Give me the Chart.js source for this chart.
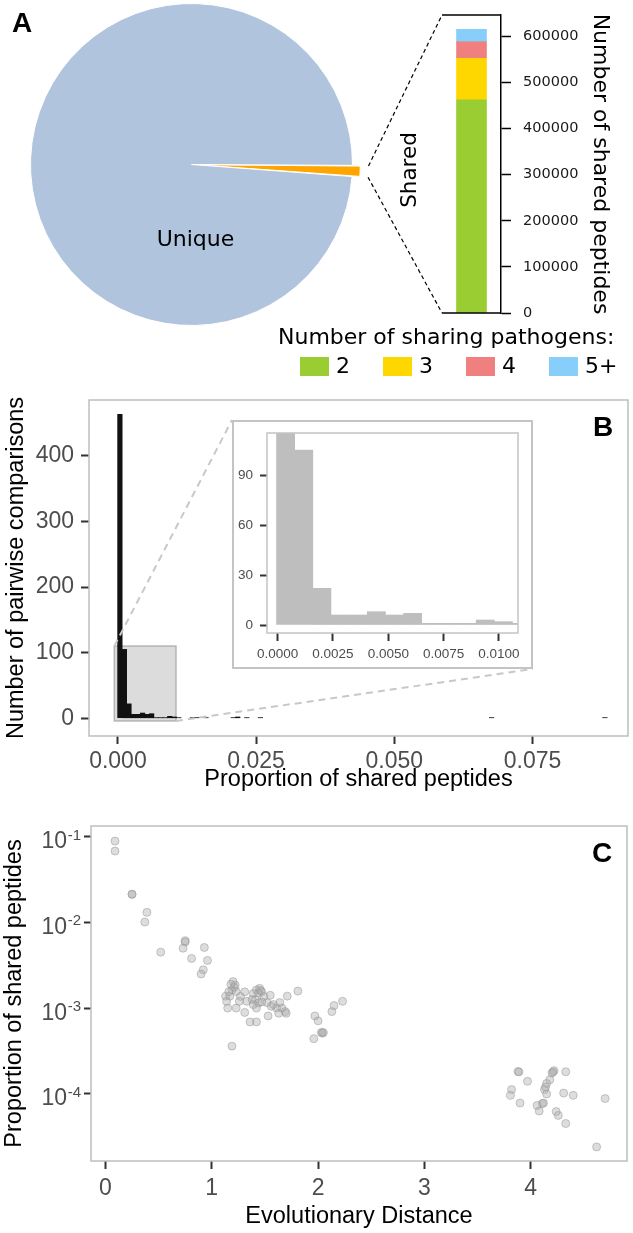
<!DOCTYPE html>
<html>
<head>
<meta charset="utf-8">
<title>Shared peptides</title>
<script src="https://cdn.jsdelivr.net/npm/chart.js@4.4.1/dist/chart.umd.min.js"></script>
<style>
  html, body { margin: 0; padding: 0; background: #fff; }
  body { position: relative; width: 633px; height: 1233px; overflow: hidden; font-family: 'DejaVu Sans', sans-serif; color: #000; }
  canvas { position: absolute; }
  .tag { position: absolute; font-family: 'Liberation Sans', Arial, sans-serif; font-weight: bold; font-size: 28px; line-height: 28px; }
  #legendTitle { position: absolute; left: 278px; top: 324px; font-size: 22px; line-height: 26px; white-space: nowrap; }
  #legendRow { position: absolute; left: 300px; top: 356px; display: flex; align-items: center; font-size: 22px; line-height: 20px; }
  #legendRow .item { display: flex; align-items: center; margin-right: 33px; }
  #legendRow .key { display: inline-block; width: 29px; height: 19px; margin-right: 7px; }
  #insetBox { position: absolute; box-sizing: border-box; border: 2px solid #c4c4c4; background: #fff; }
  #insetBox canvas { position: static; display: block; }
</style>
</head>
<body>
<canvas id="pieChart" width="339" height="339" style="left:22px;top:-5px"></canvas>
<canvas id="stackChart" width="363" height="320" style="left:270px;top:0"></canvas>
<canvas id="overlay" width="633" height="395" style="left:0;top:0"></canvas>
<div class="tag" style="left:12px;top:9px">A</div>
<div id="legendTitle">Number of sharing pathogens:</div>
<div id="legendRow"></div>

<canvas id="histChart" width="633" height="410" style="left:0;top:390px"></canvas>
<div id="insetBox"><canvas id="insetChart" width="297" height="245"></canvas></div>
<div class="tag" style="left:593px;top:413px">B</div>

<canvas id="scatterChart" width="633" height="418" style="left:0;top:815px"></canvas>
<div class="tag" style="left:592px;top:839px">C</div>

<script>
// === DATA ===
const pieLabels = ['Shared', 'Unique'];
const pieValues = [615000, 54800000];
const pieColors = ['#FFA500', '#B0C4DE'];

const sharingLabels = ['2', '3', '4', '5+'];
const sharedPeptides = [462000, 90000, 36000, 27000];
const sharingColors = ['#9ACD32', '#FFD700', '#F08080', '#87CEFA'];
const peptideTicks = [0, 100000, 200000, 300000, 400000, 500000, 600000];

// histogram bins (width ~0.00082), centres and counts
const binCenters = [0.00036, 0.00118, 0.00200, 0.00282, 0.00364, 0.00446, 0.00528, 0.00610,
  0.00692, 0.00774, 0.00856, 0.00938, 0.01020, 0.01102, 0.01348, 0.01430, 0.01594,
  0.02086, 0.02168, 0.02332, 0.02578, 0.06760, 0.08810];
const binCounts = [463, 105, 22, 6, 6, 8, 6, 7, 1, 1, 1, 3, 2, 1, 1, 1, 1, 1, 2, 1, 1, 1, 1];
const propTicks = [0, 0.025, 0.05, 0.075];
const countTicks = [0, 100, 200, 300, 400];
const zoomPropTicks = [0, 0.0025, 0.005, 0.0075, 0.01];
const zoomCountTicks = [0, 30, 60, 90];
const zoomXRange = [-0.00048, 0.01086];
const zoomYRange = [-4.8, 115.2];
const zoomRectX = [-0.00065, 0.0105];
const zoomRectY = [-4, 110];

const distances = [0.09, 0.09, 0.25, 0.25, 0.39, 0.37, 0.52, 0.75, 0.75, 0.73, 0.93, 0.81, 0.96, 0.92, 0.90,
  1.13, 1.20, 1.22, 1.19, 1.23, 1.17, 1.27, 1.15, 1.23, 1.31, 1.33, 1.31, 1.36, 1.42, 1.19, 1.39, 1.42, 1.45,
  1.47, 1.41, 1.44, 1.42, 1.39, 1.55, 1.52, 1.53, 1.58, 1.61, 1.64, 1.66, 1.63, 1.69, 1.70, 1.71, 1.81, 1.97,
  2.00, 1.96, 2.03, 2.04, 2.05, 2.13, 2.15, 2.23, 1.16, 1.26, 1.14, 1.49, 1.38, 1.21, 1.44, 1.46, 1.56, 1.47, 1.18,
  3.88, 3.89, 3.97, 3.82, 3.81, 3.90, 4.22, 4.20, 4.18, 4.15, 4.13, 4.15, 4.33, 4.31, 4.40, 4.11, 4.12, 4.06,
  4.08, 4.24, 4.26, 4.33, 4.70, 4.62, 4.14, 4.21];
const proportions = [0.089, 0.068, 0.0214, 0.0212, 0.0131, 0.0101, 0.0045, 0.0061, 0.0059, 0.0050, 0.0051, 0.0038, 0.0036, 0.0028, 0.0025,
  0.00138, 0.00204, 0.00186, 0.00163, 0.00156, 0.00138, 0.00137, 0.00100, 0.00100, 0.00155, 0.00120, 0.00089, 0.00069, 0.00069, 0.00036, 0.00148, 0.00163, 0.00170,
  0.00155, 0.00126, 0.00115, 0.00100, 0.00110, 0.00141, 0.00116, 0.00081, 0.00110, 0.00100, 0.00116, 0.00100, 0.00087, 0.00091, 0.00087, 0.00138, 0.00158, 0.00081,
  0.00071, 0.00044, 0.00052, 0.00051, 0.00052, 0.00091, 0.00107, 0.00120, 0.00155, 0.00120, 0.00120, 0.00137, 0.00126, 0.00175, 0.00150, 0.00160, 0.00105, 0.00118, 0.00190,
  1.82e-4, 1.80e-4, 1.40e-4, 1.12e-4, 9.6e-5, 7.8e-5, 1.86e-4, 1.75e-4, 1.46e-4, 1.32e-4, 1.12e-4, 9.95e-5, 1.81e-4, 1.02e-4, 9.6e-5, 7.7e-5, 7.8e-5, 7.3e-5,
  6.3e-5, 6.2e-5, 5.6e-5, 4.5e-5, 8.8e-5, 2.4e-5, 1.2e-4, 1.80e-4];
const distanceTicks = [0, 1, 2, 3, 4];
const logTicks = [1e-4, 1e-3, 1e-2, 1e-1];

// === LAYOUT ===
const stackPos = {left: 270, top: 0};
const piePos = {left: 22, top: -5};
const histPos = {left: 0, top: 390};
const insetBox = {left: 232, top: 420, width: 301, height: 249};
const gg = "'Liberation Sans', Arial, sans-serif";

// === DEFAULTS ===
Chart.defaults.font.family = "'DejaVu Sans', sans-serif";
Chart.defaults.animation = false;
Chart.defaults.events = [];
Chart.defaults.plugins.legend.display = false;
Chart.defaults.plugins.tooltip.enabled = false;

function fixedSize(w, h) {
  return (axis) => {
    if (w != null) axis.width = w;
    if (h != null) axis.height = h;
    axis.paddingTop = axis.paddingBottom = axis.paddingLeft = axis.paddingRight = 0;
  };
}
function useTicks(values) {
  return (axis) => { axis.ticks = values.map(value => ({value})); };
}
function ggGrid(len) {
  return {display: true, drawOnChartArea: false, drawTicks: true, tickLength: len,
          tickWidth: 2, tickColor: '#333', offset: false};
}
function ggTicks(size, padding, extra) {
  return Object.assign({color: '#4d4d4d', font: {family: gg, size}, padding, maxRotation: 0}, extra || {});
}
function ggTitle(text, padding) {
  return {display: true, text, color: '#000', font: {family: gg, size: 23.5}, padding};
}

const panelBorder = {
  id: 'panelBorder',
  afterDraw(chart, args, opts) {
    const {ctx, chartArea: a} = chart;
    ctx.save();
    ctx.strokeStyle = opts.color || '#bebebe';
    ctx.lineWidth = opts.width || 1.5;
    ctx.strokeRect(a.left, a.top, a.right - a.left, a.bottom - a.top);
    ctx.restore();
  }
};

// === A: PIE ===
const sliceLabel = {
  id: 'sliceLabel',
  afterDatasetsDraw(chart) {
    const arc = chart.getDatasetMeta(0).data[1];
    const {ctx} = chart;
    ctx.save();
    ctx.font = "22px 'DejaVu Sans'";
    ctx.fillStyle = '#000';
    ctx.textAlign = 'center';
    ctx.textBaseline = 'middle';
    ctx.fillText(pieLabels[1], arc.x + 4, arc.y + arc.outerRadius * 0.47);
    ctx.restore();
  }
};

const pieChart = new Chart(document.getElementById('pieChart'), {
  type: 'pie',
  data: {
    labels: pieLabels,
    datasets: [{
      data: pieValues,
      backgroundColor: pieColors,
      borderColor: '#fff',
      borderWidth: 1,
      offset: [16, 0]
    }]
  },
  options: {responsive: false, rotation: 90.3},
  plugins: [sliceLabel]
});

// === A: STACKED BAR ===
const boxLines = {
  id: 'boxLines',
  afterDraw(chart) {
    const {ctx, chartArea: a} = chart;
    ctx.save();
    ctx.strokeStyle = '#000';
    ctx.lineWidth = 1.5;
    ctx.beginPath();
    ctx.moveTo(a.left, a.top); ctx.lineTo(a.right, a.top);
    ctx.moveTo(a.left, a.bottom); ctx.lineTo(a.right, a.bottom);
    ctx.stroke();
    ctx.restore();
  }
};

const stackChart = new Chart(document.getElementById('stackChart'), {
  type: 'bar',
  data: {
    labels: [pieLabels[0]],
    datasets: sharingLabels.map((label, i) => ({
      label,
      data: [sharedPeptides[i]],
      backgroundColor: sharingColors[i],
      barThickness: 30
    }))
  },
  options: {
    responsive: false,
    layout: {padding: {left: 172, top: 15, right: 19, bottom: 7}},
    scales: {
      x: {stacked: true, display: false},
      y: {
        stacked: true,
        position: 'right',
        min: 0,
        max: 646000,
        afterBuildTicks: useTicks(peptideTicks),
        afterFit: fixedSize(113, null),
        ticks: {callback: v => String(v), color: '#1a1a1a', font: {size: 14.5}, padding: 12},
        grid: {display: true, drawOnChartArea: false, drawTicks: true, tickLength: 10, tickWidth: 1.5, tickColor: '#000'},
        border: {display: true, color: '#000', width: 1.5},
        title: {display: true, text: 'Number of shared peptides', color: '#000', font: {size: 22}, padding: {top: 1, bottom: 0}}
      }
    }
  },
  plugins: [boxLines]
});

// legend for the stacked bar
const legendRow = document.getElementById('legendRow');
sharingLabels.forEach((label, i) => {
  const item = document.createElement('span');
  item.className = 'item';
  const key = document.createElement('span');
  key.className = 'key';
  key.style.background = sharingColors[i];
  item.appendChild(key);
  item.appendChild(document.createTextNode(label));
  legendRow.appendChild(item);
});

// dashed links from the shared slice to the bar, plus slice name
(function drawOverlay() {
  const ctx = document.getElementById('overlay').getContext('2d');
  const arc = pieChart.getDatasetMeta(0).data[0];
  const off = arc.options.offset;
  const mid = (arc.startAngle + arc.endAngle) / 2;
  const cx = piePos.left + arc.x + Math.cos(mid) * off;
  const cy = piePos.top + arc.y + Math.sin(mid) * off;
  const r = arc.outerRadius;
  const a = stackChart.chartArea;
  ctx.save();
  ctx.strokeStyle = '#000';
  ctx.lineWidth = 1.2;
  ctx.setLineDash([4, 3]);
  ctx.beginPath();
  ctx.moveTo(cx + Math.cos(arc.startAngle) * r, cy + Math.sin(arc.startAngle) * r);
  ctx.lineTo(stackPos.left + a.left, stackPos.top + a.top);
  ctx.moveTo(cx + Math.cos(arc.endAngle) * r, cy + Math.sin(arc.endAngle) * r);
  ctx.lineTo(stackPos.left + a.left, stackPos.top + a.bottom);
  ctx.stroke();
  ctx.restore();

  ctx.save();
  ctx.translate(stackPos.left + a.left - 32, stackPos.top + (a.top + a.bottom) / 2 + 6);
  ctx.rotate(-Math.PI / 2);
  ctx.font = "21.5px 'DejaVu Sans'";
  ctx.fillStyle = '#000';
  ctx.textAlign = 'center';
  ctx.textBaseline = 'middle';
  ctx.fillText(pieLabels[0], 0, 0);
  ctx.restore();
})();

// === B: HISTOGRAM ===
const histData = binCenters.map((x, i) => ({x, y: binCounts[i]}));

const zoomRegion = {
  id: 'zoomRegion',
  beforeDatasetsDraw(chart) {
    const {ctx, scales: {x, y}} = chart;
    const l = x.getPixelForValue(zoomRectX[0]), r = x.getPixelForValue(zoomRectX[1]);
    const t = y.getPixelForValue(zoomRectY[1]), b = y.getPixelForValue(zoomRectY[0]);
    ctx.save();
    ctx.fillStyle = '#dcdcdc';
    ctx.fillRect(l, t, r - l, b - t);
    ctx.strokeStyle = '#b4b4b4';
    ctx.lineWidth = 1.5;
    ctx.strokeRect(l, t, r - l, b - t);
    ctx.restore();
  },
  afterDatasetsDraw(chart) {
    const {ctx, scales: {x, y}} = chart;
    const l = x.getPixelForValue(zoomRectX[0]), r = x.getPixelForValue(zoomRectX[1]);
    const t = y.getPixelForValue(zoomRectY[1]), b = y.getPixelForValue(zoomRectY[0]);
    ctx.save();
    ctx.strokeStyle = '#c8c8c8';
    ctx.lineWidth = 2;
    ctx.setLineDash([7, 5]);
    ctx.beginPath();
    ctx.moveTo(l, t);
    ctx.lineTo(insetBox.left - histPos.left, insetBox.top - histPos.top);
    ctx.moveTo(r, b);
    ctx.lineTo(insetBox.left + insetBox.width - histPos.left, insetBox.top + insetBox.height - histPos.top);
    ctx.stroke();
    ctx.restore();
  }
};

new Chart(document.getElementById('histChart'), {
  type: 'bar',
  data: {
    datasets: [{data: histData, backgroundColor: '#111', barPercentage: 1, categoryPercentage: 1, clip: 0}]
  },
  options: {
    responsive: false,
    layout: {padding: {left: 0, top: 10, right: 5, bottom: 0}},
    scales: {
      x: {
        type: 'linear', min: -0.00523, max: 0.09228, offset: false,
        afterBuildTicks: useTicks(propTicks),
        afterFit: fixedSize(null, 64),
        ticks: ggTicks(23, 3.5, {callback: v => v.toFixed(3)}),
        grid: ggGrid(8),
        border: {display: false},
        title: ggTitle('Proportion of shared peptides', {top: 0, bottom: 6})
      },
      y: {
        min: -27, max: 485,
        afterBuildTicks: useTicks(countTicks),
        afterFit: fixedSize(89, null),
        ticks: ggTicks(23, 7),
        grid: ggGrid(8),
        border: {display: false},
        title: ggTitle('Number of pairwise comparisons', {top: 2, bottom: 0})
      }
    },
    plugins: {panelBorder: {color: '#bebebe', width: 1.5}}
  },
  plugins: [zoomRegion, panelBorder]
});

// inset: zoom on the first bins
const box = document.getElementById('insetBox');
box.style.left = insetBox.left + 'px';
box.style.top = insetBox.top + 'px';
box.style.width = insetBox.width + 'px';
box.style.height = insetBox.height + 'px';

new Chart(document.getElementById('insetChart'), {
  type: 'bar',
  data: {
    datasets: [{data: histData, backgroundColor: '#bebebe', barPercentage: 1, categoryPercentage: 1, clip: 0}]
  },
  options: {
    responsive: false,
    layout: {padding: {left: 0, top: 11, right: 13, bottom: 0}},
    scales: {
      x: {
        type: 'linear', min: zoomXRange[0], max: zoomXRange[1], offset: false,
        afterBuildTicks: useTicks(zoomPropTicks),
        afterFit: fixedSize(null, 34),
        ticks: ggTicks(13.5, 5, {callback: v => v.toFixed(4)}),
        grid: ggGrid(8),
        border: {display: false}
      },
      y: {
        min: zoomYRange[0], max: zoomYRange[1],
        afterBuildTicks: useTicks(zoomCountTicks),
        afterFit: fixedSize(33, null),
        ticks: ggTicks(13.5, 7),
        grid: ggGrid(7),
        border: {display: false}
      }
    },
    plugins: {panelBorder: {color: '#c4c4c4', width: 1.5}}
  },
  plugins: [panelBorder]
});

// === C: SCATTER ===
const powerLabels = {
  id: 'powerLabels',
  afterDraw(chart) {
    const {ctx, scales: {y}} = chart;
    const right = y.right - 7 - 3;
    ctx.save();
    ctx.fillStyle = '#4d4d4d';
    ctx.textAlign = 'right';
    ctx.textBaseline = 'alphabetic';
    y.ticks.forEach(t => {
      const py = y.getPixelForValue(t.value);
      const exp = String(Math.round(Math.log10(t.value)));
      ctx.font = '15px ' + gg;
      const ew = ctx.measureText(exp).width;
      ctx.fillText(exp, right, py + 3);
      ctx.font = '23px ' + gg;
      ctx.fillText('10', right - ew - 0.5, py + 11.5);
    });
    ctx.restore();
  }
};

new Chart(document.getElementById('scatterChart'), {
  type: 'scatter',
  data: {
    datasets: [{
      data: distances.map((x, i) => ({x, y: proportions[i]})),
      backgroundColor: 'rgba(170,170,170,0.4)',
      borderColor: 'rgba(150,150,150,0.5)',
      borderWidth: 1,
      pointRadius: 4
    }]
  },
  options: {
    responsive: false,
    layout: {padding: {left: 0, top: 11, right: 6, bottom: 0}},
    scales: {
      x: {
        type: 'linear', min: -0.136, max: 4.906,
        afterBuildTicks: useTicks(distanceTicks),
        afterFit: fixedSize(null, 72),
        ticks: ggTicks(23, 6),
        grid: ggGrid(8),
        border: {display: false},
        title: ggTitle('Evolutionary Distance', {top: 0, bottom: 2})
      },
      y: {
        type: 'logarithmic', min: 1.644e-5, max: 0.1334,
        afterBuildTicks: useTicks(logTicks),
        afterFit: fixedSize(91, null),
        ticks: {display: false},
        grid: ggGrid(7),
        border: {display: false},
        title: ggTitle('Proportion of shared peptides', {top: 0, bottom: 0})
      }
    },
    plugins: {panelBorder: {color: '#bebebe', width: 1.5}}
  },
  plugins: [powerLabels, panelBorder]
});
</script>
</body>
</html>
